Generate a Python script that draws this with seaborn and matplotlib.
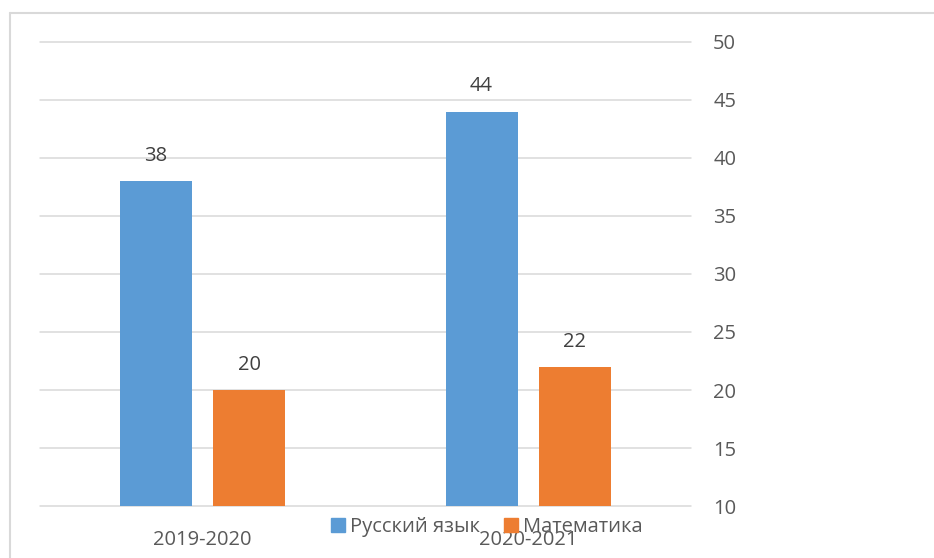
import matplotlib
matplotlib.use("Agg")
import matplotlib.pyplot as plt
import seaborn as sns
import pandas as pd
from matplotlib.lines import Line2D

years = ["2019-2020", "2020-2021"]
subjects = ["Русский язык", "Математика"]
russian = [38, 44]
math = [20, 22]
yticks = [10, 15, 20, 25, 30, 35, 40, 45, 50]

df = pd.DataFrame({
    "year": years * 2,
    "subject": [subjects[0]] * 2 + [subjects[1]] * 2,
    "value": russian + math,
})

sns.set_theme(style="white")
plt.rcParams["font.family"] = ["Open Sans", "DejaVu Sans"]

fig = plt.figure(figsize=(9.34, 5.58), dpi=100)
ax = fig.add_axes([40 / 934, 1 - 506 / 558, (691 - 40) / 934, (506 - 42) / 558])

palette = ["#5B9BD5", "#ED7D31"]
sns.barplot(data=df, x="year", y="value", hue="subject", hue_order=subjects,
            palette=palette, width=0.574, gap=0.23, ax=ax, legend=False,
            saturation=1, edgecolor="none")

ax.set_ylim(10, 50)
ax.set_xlim(-0.5, 1.5)
ax.set_yticks(yticks)
ax.yaxis.tick_right()
ax.grid(axis="y", color="#d9d9d9", linewidth=1.1)
for gl in ax.get_ygridlines():
    gl.set_clip_on(False)
ax.set_axisbelow(True)
for s in ax.spines.values():
    s.set_visible(False)
ax.tick_params(axis="y", length=0, pad=16, labelsize=14.5, labelcolor="#595959")
ax.tick_params(axis="x", length=0, pad=17, labelsize=14.5, labelcolor="#595959")
ax.set_xlabel("")
ax.set_ylabel("")

for cont in ax.containers:
    ax.bar_label(cont, padding=11, fontsize=14.5, color="#404040")

handles = [plt.Rectangle((0, 0), 1, 1, color=c) for c in palette]
fig.legend(handles, subjects, loc="center", bbox_to_anchor=(487 / 934, 1 - 527 / 558),
           ncol=2, frameon=False, fontsize=14.5, handlelength=0.7, handleheight=0.7,
           handletextpad=0.25, columnspacing=1.2, labelcolor="#595959")

fig.add_artist(Line2D([10 / 934, 1.0], [1 - 13 / 558] * 2, color="#d9d9d9", lw=1.5,
                      transform=fig.transFigure))
fig.add_artist(Line2D([10 / 934] * 2, [0, 1 - 13 / 558], color="#d9d9d9", lw=1.5,
                      transform=fig.transFigure))

fig.savefig("out.png", dpi=100, facecolor="white")
